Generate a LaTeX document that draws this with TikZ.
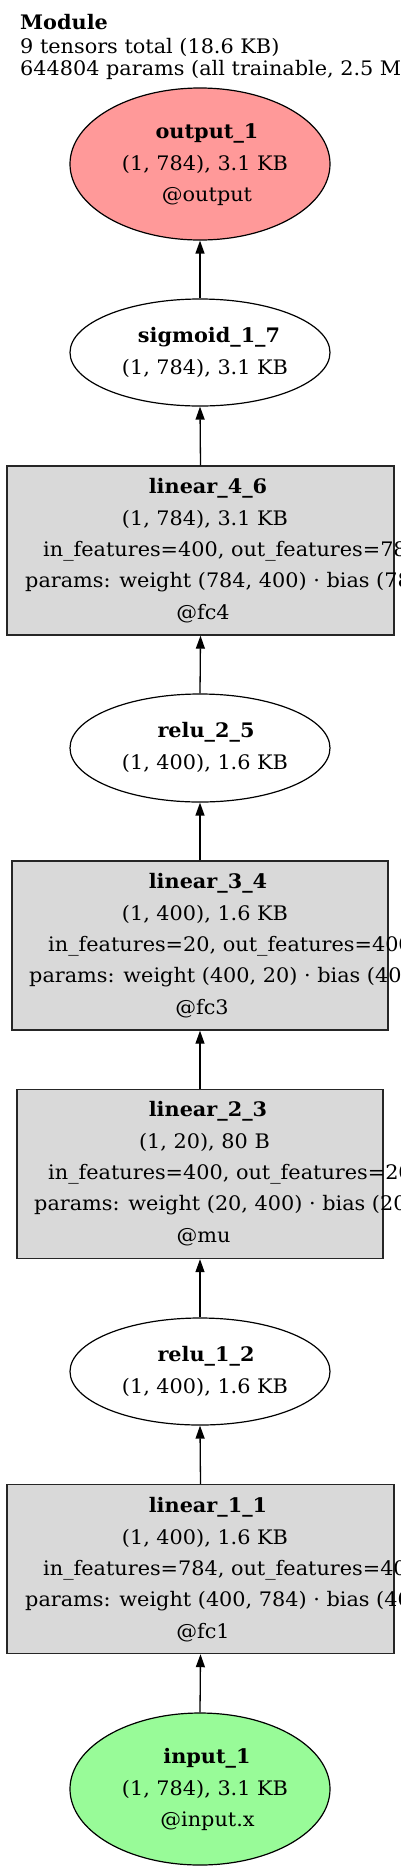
\documentclass[tikz,border=0pt]{standalone}
\usepackage{fontspec}
\setmainfont[FakeStretch=1.04]{DejaVu Serif}
\usetikzlibrary{shapes.geometric,arrows.meta}
\definecolor{outred}{HTML}{FF9999}
\definecolor{ingreen}{HTML}{98FB98}
\definecolor{opgray}{HTML}{D9D9D9}

\tikzset{
  txt/.style={font=\fontsize{20}{23}\selectfont, inner sep=0pt, anchor=base},
  txtl/.style={txt, anchor=base west},
  tens/.style={ellipse, draw, line width=1.2pt, minimum width=260pt, inner sep=0pt},
  opbox/.style={rectangle, draw=black!85, line width=1.4pt, fill=opgray, minimum height=169pt, inner sep=0pt},
  flow/.style={line width=1.3pt, -{Triangle[length=13pt,width=9pt]}}
}

\begin{document}
\begin{tikzpicture}[x=1pt,y=1pt]
\useasboundingbox (0,0) rectangle (400,-1872);
% summary
\node[txtl] (title) at (20,-29) {\textbf{Module}};
\node[txtl] (tsum) at (20,-53) {9 tensors total (18.6 KB)};
\node[txtl] (psum) at (20,-75) {644804 params (all trainable, 2.5 MB)};

% tensors and layers
\node[tens, fill=outred, minimum height=152pt] (out) at (200,-164) {};
\node[tens, fill=white, minimum height=107pt] (sig) at (200,-352.5) {};
\node[opbox, minimum width=387pt] (l46) at (200.5,-550.5) {};
\node[tens, fill=white, minimum height=108pt] (r25) at (200,-748) {};
\node[opbox, minimum width=376pt] (l34) at (200,-945.5) {};
\node[opbox, minimum width=366pt] (l23) at (200,-1174) {};
\node[tens, fill=white, minimum height=107pt] (r12) at (200,-1371.5) {};
\node[opbox, minimum width=387pt] (l11) at (200.5,-1569) {};
\node[tens, fill=ingreen, minimum height=152pt] (in) at (200,-1789) {};

% edges
\foreach \a/\b in {sig/out, l46/sig, r25/l46, l34/r25, l23/l34, r12/l23, l11/r12, in/l11}
  \draw[flow] (\a.north) -- (\b.south);

% output_1
\node[txt] (outA) at (207,-138) {\textbf{output\_1}};
\node[txt] (outB) at (205,-170) {(1, 784), 3.1 KB};
\node[txt] (outC) at (207,-201.5) {@output};
% sigmoid_1_7
\node[txt] (sigA) at (209,-342) {\textbf{sigmoid\_1\_7}};
\node[txt] (sigB) at (205,-374) {(1, 784), 3.1 KB};
% linear_4_6
\node[txt] (l46A) at (208,-493.5) {\textbf{linear\_4\_6}};
\node[txt] (l46B) at (205,-525.5) {(1, 784), 3.1 KB};
\node[txtl] (l46C) at (43,-556.5) {in\_features=400, out\_features=784};
\node[txtl] (l46D) at (25,-587.5) {params: weight (784, 400) · bias (784)};
\node[txt] (l46E) at (203,-619.5) {@fc4};
% relu_2_5
\node[txt] (r25A) at (206,-737.5) {\textbf{relu\_2\_5}};
\node[txt] (r25B) at (205,-769.5) {(1, 400), 1.6 KB};
% linear_3_4
\node[txt] (l34A) at (208,-888.5) {\textbf{linear\_3\_4}};
\node[txt] (l34B) at (205,-920.5) {(1, 400), 1.6 KB};
\node[txtl] (l34C) at (48,-951.5) {in\_features=20, out\_features=400};
\node[txtl] (l34D) at (29,-982.5) {params: weight (400, 20) · bias (400)};
\node[txt] (l34E) at (202,-1014.5) {@fc3};
% linear_2_3
\node[txt] (l23A) at (208,-1116.5) {\textbf{linear\_2\_3}};
\node[txt] (l23B) at (204.5,-1148.5) {(1, 20), 80 B};
\node[txtl] (l23C) at (48,-1179.5) {in\_features=400, out\_features=20};
\node[txtl] (l23D) at (34,-1210.5) {params: weight (20, 400) · bias (20)};
\node[txt] (l23E) at (203.5,-1242.5) {@mu};
% relu_1_2
\node[txt] (r12A) at (206,-1361) {\textbf{relu\_1\_2}};
\node[txt] (r12B) at (205,-1393) {(1, 400), 1.6 KB};
% linear_1_1
\node[txt] (l11A) at (208,-1512.5) {\textbf{linear\_1\_1}};
\node[txt] (l11B) at (205,-1544.5) {(1, 400), 1.6 KB};
\node[txtl] (l11C) at (43,-1575.5) {in\_features=784, out\_features=400};
\node[txtl] (l11D) at (25,-1606.5) {params: weight (400, 784) · bias (400)};
\node[txt] (l11E) at (203,-1638.5) {@fc1};
% input_1
\node[txt] (inA) at (207,-1763) {\textbf{input\_1}};
\node[txt] (inB) at (205,-1795) {(1, 784), 3.1 KB};
\node[txt] (inC) at (207.5,-1826.5) {@input.x};
\end{tikzpicture}
\end{document}
